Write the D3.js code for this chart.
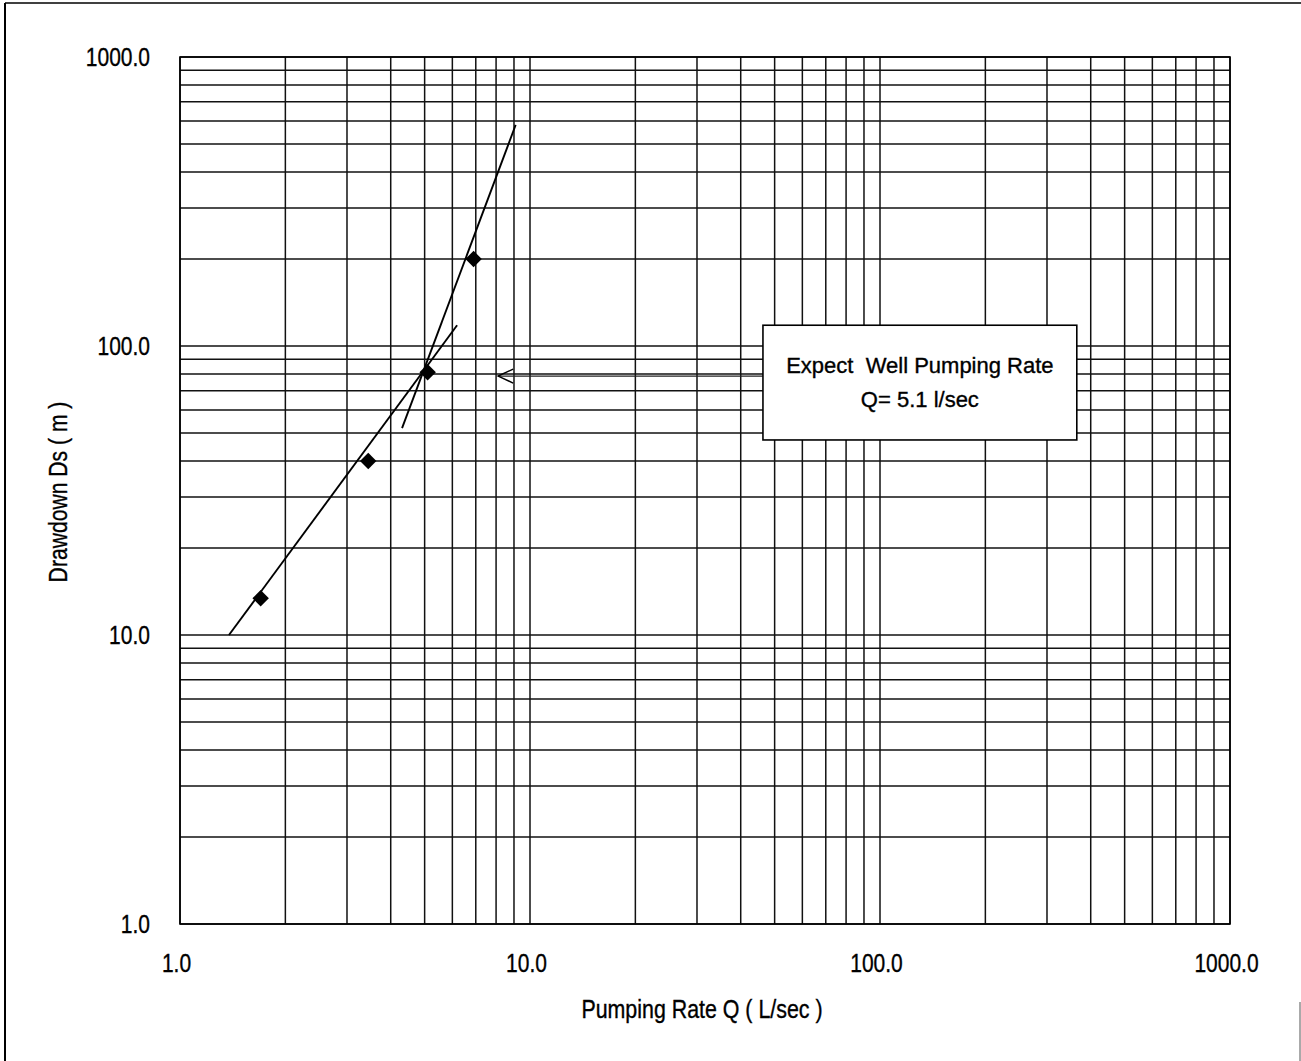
<!DOCTYPE html>
<html>
<head>
<meta charset="utf-8">
<script src="https://cdn.jsdelivr.net/npm/d3@7"></script>
<style>
  html, body { margin: 0; padding: 0; background: #fff; }
  svg { display: block; }
  text { font-family: "Liberation Sans", Arial, sans-serif; fill: #000; stroke: #000; stroke-width: 0.35px; }
</style>
</head>
<body>
<svg id="chart" width="1301" height="1061"></svg>
<script>
// ---- data ----
const xDomain = [1, 1000];
const yDomain = [1, 1000];
const xTickValues = [1, 10, 100, 1000];
const yTickValues = [1, 10, 100, 1000];
const xTitle = "Pumping Rate Q ( L/sec )";
const yTitle = "Drawdown Ds ( m )";

const pointsQ  = [1.7, 3.45, 5.1, 6.9];
const pointsDs = [13.4, 40.0, 81.1, 200];

const fit1Q  = [1.38, 6.19];
const fit1Ds = [10.0, 118];
const fit2Q  = [4.31, 9.10];
const fit2Ds = [52.0, 582];

const arrowQ  = [46.3, 8.11];
const arrowDs = [78.7, 78.7];
const boxQ  = [46.3, 365];
const boxDs = [118, 47.3];
const annotationLines = ["Expect  Well Pumping Rate", "Q= 5.1 l/sec"];

// ---- layout ----
const svg = d3.select("#chart");
const x = d3.scaleLog().domain(xDomain).range([180, 1230]);
const y = d3.scaleLog().domain(yDomain).range([924, 57]);

function condense(sel, factor) {
  sel.each(function () {
    const w = this.getComputedTextLength();
    d3.select(this).attr("textLength", w * factor).attr("lengthAdjust", "spacingAndGlyphs");
  });
}

// page frame lines
svg.append("line").attr("x1", 5).attr("x2", 5).attr("y1", 3).attr("y2", 1061)
  .attr("stroke", "#000").attr("stroke-width", 2);
svg.append("line").attr("x1", 5).attr("x2", 1301).attr("y1", 3).attr("y2", 3)
  .attr("stroke", "#000").attr("stroke-width", 1.5);
svg.append("line").attr("x1", 1300).attr("x2", 1300).attr("y1", 1002).attr("y2", 1061)
  .attr("stroke", "#555").attr("stroke-width", 1);

// grid
const grid = svg.append("g").attr("stroke", "#111").attr("stroke-width", 1.5);
grid.selectAll("line.v").data(x.ticks()).join("line")
  .attr("class", "v")
  .attr("x1", d => x(d)).attr("x2", d => x(d))
  .attr("y1", y(yDomain[1])).attr("y2", y(yDomain[0]));
grid.selectAll("line.h").data(y.ticks()).join("line")
  .attr("class", "h")
  .attr("y1", d => y(d)).attr("y2", d => y(d))
  .attr("x1", x(xDomain[0])).attr("x2", x(xDomain[1]));

// plot frame
svg.append("rect")
  .attr("x", x(xDomain[0])).attr("y", y(yDomain[1]))
  .attr("width", x(xDomain[1]) - x(xDomain[0]))
  .attr("height", y(yDomain[0]) - y(yDomain[1]))
  .attr("fill", "none").attr("stroke", "#000").attr("stroke-width", 1.6);

// axes
const fmt = d3.format(".1f");
const xAxis = svg.append("g")
  .attr("transform", `translate(0,${y(yDomain[0])})`)
  .call(d3.axisBottom(x).tickValues(xTickValues).tickFormat(fmt).tickSize(0).tickPadding(0));
xAxis.select(".domain").remove();
xAxis.selectAll("text").attr("x", -4).attr("y", 48).attr("dy", null)
  .style("font-size", "25px").attr("font-family", null);
condense(xAxis.selectAll("text"), 0.84);

const yAxis = svg.append("g")
  .attr("transform", `translate(${x(xDomain[0])},0)`)
  .call(d3.axisLeft(y).tickValues(yTickValues).tickFormat(fmt).tickSize(0).tickPadding(0));
yAxis.select(".domain").remove();
yAxis.selectAll("text").attr("x", -30).attr("dy", "0.35em")
  .style("font-size", "25px").attr("font-family", null);
condense(yAxis.selectAll("text"), 0.84);

// axis titles
const xt = svg.append("text").attr("x", 702).attr("y", 1018)
  .attr("text-anchor", "middle").style("font-size", "25px").text(xTitle);
condense(xt, 0.855);
const yt = svg.append("text").attr("transform", "translate(67,492) rotate(-90)")
  .attr("text-anchor", "middle").style("font-size", "25px").text(yTitle);
condense(yt, 0.845);

// fitted lines
const line = d3.line().x(d => x(d[0])).y(d => y(d[1]));
svg.append("path").datum(d3.zip(fit1Q, fit1Ds)).attr("d", line)
  .attr("fill", "none").attr("stroke", "#000").attr("stroke-width", 1.9);
svg.append("path").datum(d3.zip(fit2Q, fit2Ds)).attr("d", line)
  .attr("fill", "none").attr("stroke", "#000").attr("stroke-width", 1.9);

// points (diamonds)
svg.selectAll("path.pt").data(d3.zip(pointsQ, pointsDs)).join("path")
  .attr("class", "pt")
  .attr("d", d3.symbol().type(d3.symbolSquare).size(135))
  .attr("transform", d => `translate(${x(d[0])},${y(d[1])}) rotate(45)`)
  .attr("fill", "#000");

// annotation arrow
const ax0 = x(arrowQ[0]), ax1 = x(arrowQ[1]), ay = y(arrowDs[0]);
svg.append("line").attr("x1", ax0).attr("x2", ax1).attr("y1", ay).attr("y2", y(arrowDs[1]))
  .attr("stroke", "#222").attr("stroke-width", 1.3);
svg.append("path")
  .attr("d", `M${ax1 + 15},${ay - 7} L${ax1},${ay} L${ax1 + 15},${ay + 7}`)
  .attr("fill", "none").attr("stroke", "#000").attr("stroke-width", 1.5);

// annotation box
const bx0 = x(boxQ[0]), bx1 = x(boxQ[1]), by0 = y(boxDs[0]), by1 = y(boxDs[1]);
svg.append("rect").attr("x", bx0).attr("y", by0)
  .attr("width", bx1 - bx0).attr("height", by1 - by0)
  .attr("fill", "#fff").attr("stroke", "#000").attr("stroke-width", 1.6);
const bcx = (bx0 + bx1) / 2, bcy = (by0 + by1) / 2;
svg.selectAll("text.ann").data(annotationLines).join("text")
  .attr("class", "ann")
  .attr("x", bcx).attr("y", (d, i) => bcy - 9.5 + i * 34)
  .attr("text-anchor", "middle")
  .style("font-size", "22px").style("white-space", "pre")
  .text(d => d);
</script>
</body>
</html>
